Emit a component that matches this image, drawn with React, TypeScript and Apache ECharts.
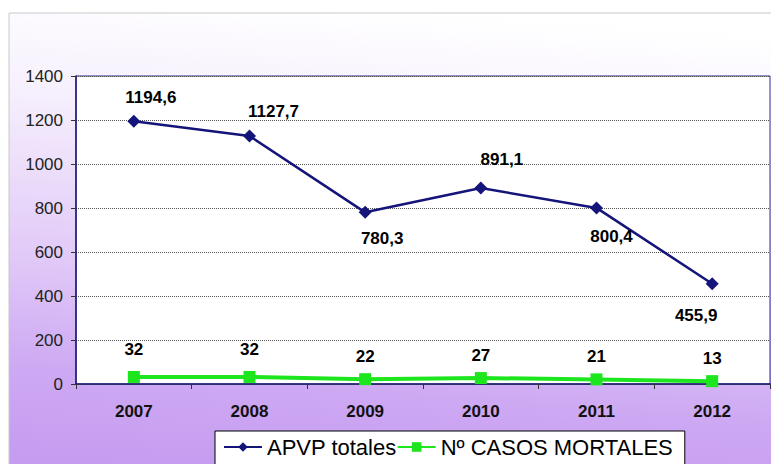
import React, { useEffect, useRef } from "react";
import * as echarts from "echarts";

const years = ["2007", "2008", "2009", "2010", "2011", "2012"];
const apvpTotales = [1194.6, 1127.7, 780.3, 891.1, 800.4, 455.9];
const casosMortales = [32, 32, 22, 27, 21, 13];
const yTicks = { min: 0, max: 1400, interval: 200 };

const apvpLabelPos = ["top", "top", "bottom", "top", "bottom", "bottom"];
const apvpLabelOffset = [[17, 0], [24, 0], [17, 2], [21, -4], [15, 5], [-16, 8]];
const casosLabelOffset = [[0, -2], [0, -2], [0, 3], [0, 3], [0, 3], [0, 3]];

const FONT = "'Liberation Sans', Arial, sans-serif";

export default function App() {
  const ref = useRef<HTMLDivElement>(null);
  useEffect(() => {
    if (!ref.current) return;
    const chart = echarts.init(ref.current, undefined, { renderer: "svg" });
    const fmt = (v: number) => String(v).replace(".", ",");
    chart.setOption({
      animation: false,
      backgroundColor: "#ffffff",
      graphic: [
        {
          type: "rect",
          z: -100,
          silent: true,
          shape: { x: 9, y: 13, width: 800, height: 480 },
          style: {
            fill: new echarts.graphic.LinearGradient(0.56, 0, 0.44, 1, [
              { offset: 0, color: "#ffffff" },
              { offset: 0.22, color: "#f6f0fd" },
              { offset: 0.55, color: "#e2cbf8" },
              { offset: 0.8, color: "#cda8f3" },
              { offset: 1, color: "#c49bf0" },
            ]),
            stroke: "#c8c8c8",
            lineWidth: 1,
          },
        },
      ],
      grid: {
        left: 76,
        top: 76,
        right: 1,
        bottom: 80,
        show: true,
        backgroundColor: "#ffffff",
        borderColor: "#2a2a90",
        borderWidth: 1,
        containLabel: false,
      },
      legend: {
        left: 215,
        top: 431,
        padding: [5, 12, 14, 8],
        backgroundColor: "#ffffff",
        borderColor: "#000000",
        borderWidth: 1,
        borderRadius: 0,
        itemWidth: 38,
        itemHeight: 12,
        itemGap: 0,
        textStyle: { fontSize: 22, color: "#000", fontFamily: FONT },
        data: ["APVP totales", "Nº CASOS MORTALES"],
      },
      xAxis: {
        type: "category",
        data: years,
        boundaryGap: true,
        axisLine: { show: true, lineStyle: { color: "#1a1a70", width: 1.5 } },
        axisTick: { show: true, length: 5, inside: false, lineStyle: { color: "#333" } },
        axisLabel: {
          margin: 19,
          fontSize: 17,
          fontWeight: "bold",
          color: "#111",
          fontFamily: FONT,
        },
      },
      yAxis: {
        type: "value",
        min: yTicks.min,
        max: yTicks.max,
        interval: yTicks.interval,
        axisLine: { show: true, lineStyle: { color: "#1a1a70", width: 1.5 } },
        axisTick: { show: true, length: 5, lineStyle: { color: "#333" } },
        axisLabel: {
          margin: 13,
          fontSize: 17,
          color: "#222",
          fontFamily: FONT,
          formatter: (v: number) => String(v),
        },
        splitLine: { show: true, lineStyle: { type: "dotted", color: "#555", width: 1 } },
      },
      series: [
        {
          name: "APVP totales",
          type: "line",
          data: apvpTotales.map((v, i) => ({
            value: v,
            label: {
              position: apvpLabelPos[i],
              offset: apvpLabelOffset[i],
            },
          })),
          symbol: "diamond",
          symbolSize: 13,
          itemStyle: { color: "#14147a" },
          lineStyle: { color: "#14147a", width: 2.5 },
          label: {
            show: true,
            distance: 9,
            fontSize: 17,
            fontWeight: "bold",
            color: "#000",
            fontFamily: FONT,
            formatter: (p: any) => fmt(p.value),
          },
          z: 3,
        },
        {
          name: "Nº CASOS MORTALES",
          type: "line",
          data: casosMortales.map((v, i) => ({
            value: v,
            label: { offset: casosLabelOffset[i] },
          })),
          symbol: "rect",
          symbolSize: 12,
          itemStyle: { color: "#1ee61e" },
          lineStyle: { color: "#1ee61e", width: 4 },
          label: {
            show: true,
            position: "top",
            distance: 11,
            fontSize: 17,
            fontWeight: "bold",
            color: "#000",
            fontFamily: FONT,
            formatter: (p: any) => fmt(p.value),
          },
          z: 4,
        },
      ],
    });
    return () => chart.dispose();
  }, []);
  return (
    <div
      ref={ref}
      style={{ position: "fixed", left: 0, top: 0, width: 771, height: 464 }}
    />
  );
}
